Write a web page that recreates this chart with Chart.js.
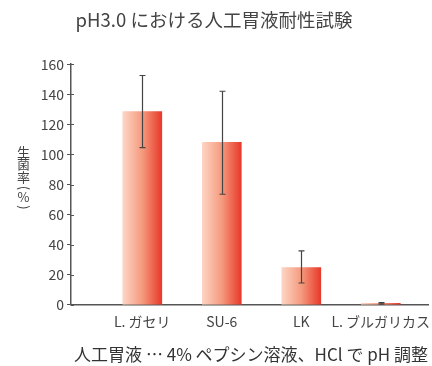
<!DOCTYPE html>
<html><head><meta charset="utf-8">
<script src="https://cdn.jsdelivr.net/npm/chart.js@4"></script>
<style>html,body{margin:0;padding:0;background:#fff;overflow:hidden}</style>
</head><body>
<canvas id="c" width="432" height="366"></canvas>
<script>
const categories = ['L. ガセリ', 'SU-6', 'LK', 'L. ブルガリカス'];
const values = [128.5, 108, 24.7, 1.0];
const errLow = [104.5, 73.5, 14.5, 0.5];
const errHigh = [152.5, 142, 35.8, 1.5];
const yTicks = [0, 20, 40, 60, 80, 100, 120, 140, 160];
const titleText = 'pH3.0 における人工胃液耐性試験';
const yTitleChars = ['生', '菌', '率', '(', '%', ')'];
const noteText = '人工胃液 … 4% ペプシン溶液、HCl で pH 調整';

const FONT = "'Noto Sans CJK JP', 'Noto Sans', sans-serif";
Chart.defaults.font.family = FONT;
Chart.defaults.color = '#444';

const errorBars = {
  id: 'errorBars',
  afterDatasetsDraw(chart) {
    const {ctx, scales: {x, y}} = chart;
    ctx.save();
    ctx.strokeStyle = '#444';
    ctx.lineWidth = 1.2;
    categories.forEach((c, i) => {
      const px = Math.round(x.getPixelForValue(i + 1)) + 0.5;
      const top = y.getPixelForValue(errHigh[i]);
      const bot = y.getPixelForValue(errLow[i]);
      ctx.beginPath();
      ctx.moveTo(px, top); ctx.lineTo(px, bot);
      ctx.moveTo(px - 3, top); ctx.lineTo(px + 3, top);
      ctx.moveTo(px - 3, bot); ctx.lineTo(px + 3, bot);
      ctx.stroke();
    });
    ctx.restore();
  }
};

const innerTicks = {
  id: 'innerTicks',
  afterDraw(chart) {
    const {ctx, scales: {y}, chartArea} = chart;
    ctx.save();
    ctx.strokeStyle = '#555';
    ctx.lineWidth = 1;
    yTicks.forEach(v => {
      const py = Math.round(y.getPixelForValue(v)) + 0.5;
      ctx.beginPath();
      ctx.moveTo(chartArea.left, py);
      ctx.lineTo(chartArea.left + 3, py);
      ctx.stroke();
    });
    // vertical axis title (stacked characters)
    ctx.fillStyle = '#444';
    ctx.textAlign = 'center';
    ctx.textBaseline = 'middle';
    const cx = 23.5;
    const ys = [152, 164.5, 177, 188, 197.5, 207.5];
    yTitleChars.forEach((ch, i) => {
      ctx.save();
      ctx.translate(cx, ys[i]);
      const isParen = ch === '(' || ch === ')';
      ctx.font = '13px ' + FONT;
      if (isParen) ctx.rotate(Math.PI / 2);
      ctx.fillText(ch, 0, 0);
      ctx.restore();
    });
    ctx.restore();
  }
};

new Chart(document.getElementById('c'), {
  type: 'bar',
  data: {
    datasets: [{
      data: categories.map((c, i) => ({x: i + 1, y: values[i]})),
      barThickness: 39,
      backgroundColor(ctx) {
        const chart = ctx.chart;
        if (!chart.chartArea || ctx.dataIndex === undefined) return '#f08060';
        const cx = chart.scales.x.getPixelForValue(ctx.dataIndex + 1);
        const g = chart.ctx.createLinearGradient(cx - 19.5, 0, cx + 19.5, 0);
        g.addColorStop(0, '#fdd5c4');
        g.addColorStop(0.5, '#f59a7e');
        g.addColorStop(1, '#e8392a');
        return g;
      },
      borderWidth: 0
    }]
  },
  options: {
    responsive: false,
    animation: false,
    layout: {padding: {left: 0, right: 4, top: 0, bottom: 0}},
    plugins: {
      legend: {display: false},
      tooltip: {enabled: false},
      title: {
        display: true, text: titleText, color: '#444',
        font: {size: 18.5, weight: 'normal'},
        padding: {top: 9, bottom: 33}
      },
      subtitle: {
        display: true, text: noteText, position: 'bottom', align: 'end', color: '#333',
        font: {size: 17, weight: 'normal'},
        padding: {top: 7, bottom: 1}
      }
    },
    scales: {
      x: {
        type: 'linear', min: 0.103, max: 4.594, offset: false, grace: 0,
        afterBuildTicks: s => { s.ticks = categories.map((c, i) => ({value: i + 1})); },
        afterFit: s => { s.paddingLeft = 0; s.paddingRight = 0; },
        grid: {drawOnChartArea: false, drawTicks: false, offset: false},
        border: {color: '#555', width: 1.5},
        ticks: {
          padding: 8, color: '#444', font: {size: 14}, autoSkip: false, maxRotation: 0,
          callback: v => categories[v - 1] ?? ''
        }
      },
      y: {
        min: 0, max: 160,
        afterBuildTicks: s => { s.ticks = yTicks.map(v => ({value: v})); },
        afterFit: s => { s.width = 71; },
        grid: {drawOnChartArea: false, tickLength: 4, color: '#555'},
        border: {color: '#555', width: 1.5},
        ticks: {padding: 3, color: '#444', font: {size: 14}}
      }
    }
  },
  plugins: [errorBars, innerTicks]
});
</script>
</body></html>
